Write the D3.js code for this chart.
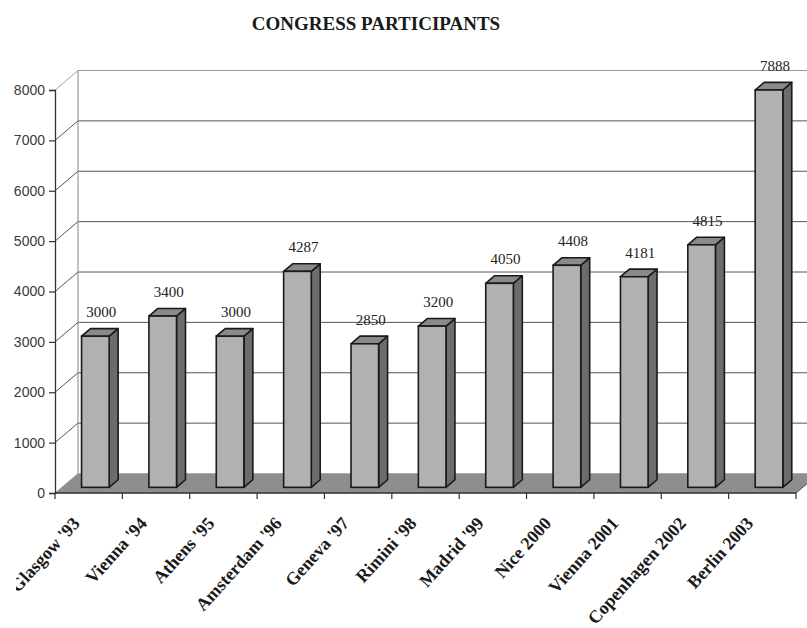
<!DOCTYPE html>
<html>
<head>
<meta charset="utf-8">
<script src="https://cdn.jsdelivr.net/npm/d3@7"></script>
<style>
  html, body { margin: 0; padding: 0; background: #fff; }
  svg { display: block; }
</style>
</head>
<body>
<svg id="chart" width="807" height="628"></svg>
<script>
// Congress participants per year
const categories = ["Glasgow '93", "Vienna '94", "Athens '95", "Amsterdam '96", "Geneva '97",
  "Rimini '98", "Madrid '99", "Nice 2000", "Vienna 2001", "Copenhagen 2002", "Berlin 2003"];
const participants = [3000, 3400, 3000, 4287, 2850, 3200, 4050, 4408, 4181, 4815, 7888];
const yTicks = [0, 1000, 2000, 3000, 4000, 5000, 6000, 7000, 8000];
const titleText = "CONGRESS PARTICIPANTS";

const svg = d3.select("#chart");
const W = 807, H = 628;

// plot frame (front plane) and 3D depth vector
const plotL = 55, plotR = 796, plotB = 493, plotT = 90;
const depth = { dx: 23, dy: -19.5 };
const shift = z => [z * depth.dx, z * depth.dy];

const x = d3.scaleBand().domain(categories).range([plotL, plotR])
  .paddingInner(0.59).paddingOuter(0.295);
const y = d3.scaleLinear().domain([0, 8000]).range([plotB, plotT]);

// chart area clip (category labels running off the left edge are cut)
svg.append("defs").append("clipPath").attr("id", "area-clip")
  .append("rect").attr("x", 16).attr("y", 0).attr("width", W - 16).attr("height", H);

// title
svg.append("text")
  .attr("x", 376).attr("y", 30)
  .attr("text-anchor", "middle")
  .attr("font-family", "'Liberation Serif', 'Times New Roman', serif")
  .attr("font-weight", "bold").attr("font-size", 19)
  .attr("fill", "#1a1a1a")
  .text(titleText);

const [bx, by] = shift(1);

// back wall gridlines
const grid = svg.append("g");
grid.selectAll("line.back").data(yTicks.filter(t => t > 0)).join("line")
  .attr("x1", plotL + bx).attr("x2", W + 5)
  .attr("y1", d => y(d) + by).attr("y2", d => y(d) + by)
  .attr("stroke", d => d === 8000 ? "#999" : "#555").attr("stroke-width", 1);
// back wall left edge
grid.append("line")
  .attr("x1", plotL + bx).attr("x2", plotL + bx)
  .attr("y1", y(8000) + by).attr("y2", y(0) + by)
  .attr("stroke", "#999").attr("stroke-width", 1.2);
// side wall diagonals
grid.selectAll("line.side").data(yTicks.filter(t => t > 0)).join("line")
  .attr("x1", plotL).attr("y1", d => y(d))
  .attr("x2", plotL + bx).attr("y2", d => y(d) + by)
  .attr("stroke", d => d === 8000 ? "#999" : "#444").attr("stroke-width", 0.9);

// floor
svg.append("polygon")
  .attr("points", [[plotL, y(0)], [plotR, y(0)], [plotR + bx, y(0) + by], [plotL + bx, y(0) + by]].join(" "))
  .attr("fill", "#8e8e8e").attr("stroke", "#8e8e8e").attr("stroke-width", 0.5);

// y axis
const yAxis = d3.axisLeft(y).tickValues(yTicks).tickFormat(d3.format("d")).tickSize(6).tickPadding(4);
const ya = svg.append("g").attr("transform", `translate(${plotL},0)`).call(yAxis);
ya.select(".domain").attr("stroke", "#333").attr("stroke-width", 1.3);
ya.selectAll(".tick line").attr("stroke", "#333").attr("stroke-width", 1.2);
ya.selectAll(".tick text")
  .attr("font-family", "'Liberation Sans', Arial, sans-serif")
  .attr("font-size", 14).attr("fill", "#3a3a3a");

// x axis: front edge of floor with ticks at category boundaries
const xa = svg.append("g");
xa.append("line").attr("x1", plotL).attr("x2", plotR).attr("y1", y(0)).attr("y2", y(0))
  .attr("stroke", "#333").attr("stroke-width", 1.3);
const step = x.step();
const firstEdge = x(categories[0]) - x.paddingOuter() * step;
xa.selectAll("line.tick").data(d3.range(categories.length + 1)).join("line")
  .attr("x1", i => firstEdge + i * step)
  .attr("x2", i => firstEdge + i * step)
  .attr("y1", y(0)).attr("y2", y(0) + 6)
  .attr("stroke", "#333").attr("stroke-width", 1.2);
xa.append("line")
  .attr("x1", plotR).attr("y1", y(0)).attr("x2", plotR + bx).attr("y2", y(0) + by)
  .attr("stroke", "#555").attr("stroke-width", 1);

// category labels
xa.append("g").attr("clip-path", "url(#area-clip)")
  .selectAll("text").data(categories).join("text")
  .attr("transform", d => `translate(${x(d) + x.bandwidth() / 2 - 8},${y(0) + 31}) rotate(-48)`)
  .attr("text-anchor", "end")
  .attr("font-family", "'Liberation Serif', 'Times New Roman', serif")
  .attr("font-weight", "bold").attr("font-size", 18)
  .attr("fill", "#1a1a1a")
  .text(d => d);

// 3D bars
const zFront = 0.29, zBack = 0.68;
const [fx, fy] = shift(zFront);
const [kx, ky] = shift(zBack);
const sdx = kx - fx, sdy = ky - fy;
const rows = categories.map((c, i) => ({ c, v: participants[i] }));
const bars = svg.append("g").selectAll("g").data(rows).join("g");
bars.each(function (d) {
  const g = d3.select(this);
  const x0 = x(d.c) + fx, x1 = x0 + x.bandwidth();
  const yb = y(0) + fy, yt = y(d.v) + fy;
  const edge = "#1a1a1a", ew = 1.6;
  g.append("polygon")
    .attr("points", [[x1, yb], [x1 + sdx, yb + sdy], [x1 + sdx, yt + sdy], [x1, yt]].join(" "))
    .attr("fill", "#6c6c6c").attr("stroke", edge).attr("stroke-width", ew)
    .attr("stroke-linejoin", "round");
  g.append("polygon")
    .attr("points", [[x0, yt], [x0 + sdx, yt + sdy], [x1 + sdx, yt + sdy], [x1, yt]].join(" "))
    .attr("fill", "#8a8a8a").attr("stroke", edge).attr("stroke-width", ew)
    .attr("stroke-linejoin", "round");
  g.append("rect")
    .attr("x", x0).attr("y", yt).attr("width", x1 - x0).attr("height", yb - yt)
    .attr("fill", "#b1b1b1").attr("stroke", edge).attr("stroke-width", ew);
});

// value labels
svg.append("g").selectAll("text").data(rows).join("text")
  .attr("x", d => x(d.c) + x.bandwidth() / 2 + fx + 6)
  .attr("y", d => y(d.v) + fy - 19)
  .attr("text-anchor", "middle")
  .attr("font-family", "'Liberation Serif', 'Times New Roman', serif")
  .attr("font-size", 15).attr("fill", "#222")
  .text(d => d.v);
</script>
</body>
</html>
